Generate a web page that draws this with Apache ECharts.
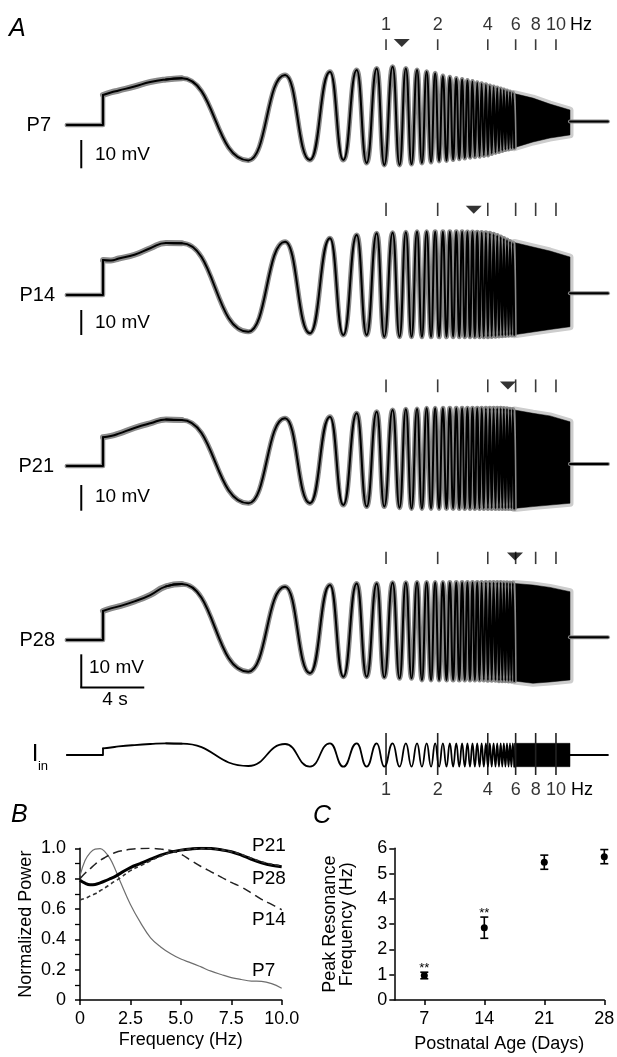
<!DOCTYPE html>
<html><head><meta charset="utf-8">
<script src="https://cdn.jsdelivr.net/npm/echarts@6.0.0/dist/echarts.min.js"></script>
<style>html,body{margin:0;padding:0;background:#fff}#c{width:617px;height:1057px}</style>
</head><body><div id="c"></div>
<script>
// ================= DATA =================
// Panel A: time (s, 0 = onset of chirp current), membrane potential (mV re. rest)
const preT = [-2.3, 0];
const slowT = [0, 0.5, 1, 2, 3, 4, 5];
const extremaT = [9.23, 11.56, 13.14, 14.41, 15.26, 16.11, 16.74, 17.38, 17.86,
  18.39, 18.83, 19.23, 19.59, 19.94, 20.25, 20.55, 20.83, 21.09, 21.34,
  21.58, 21.81, 22.02, 22.23, 22.43, 22.62, 22.80, 22.97, 23.14, 23.30,
  23.46, 23.61, 23.76, 23.91, 24.04, 24.18, 24.31, 24.44, 24.56, 24.68,
  24.80, 24.92, 25.03, 25.14, 25.25, 25.35, 25.45, 25.55, 25.65, 25.75,
  25.84, 25.93, 26.02, 26.11];
const denseT = [26.11, 27.3, 28.38, 29.65];
const postT = [29.65, 32.06];

const p7Pre = [0, 0];
const p7Slow = [10.6, 11.5, 12.2, 13.6, 15.2, 16.1, 16.5];
const p7Ext = [-12.5, 17.7, -12.4, 18.8, -12.4, 19.4, -13.4, 20.0, -14.1,
  20.6, -14.1, 20.0, -13.8, 19.4, -13.4, 18.8, -13.1, 18.3, -12.7,
  17.3, -12.5, 16.9, -12.2, 16.4, -11.9, 16.1, -11.7, 15.7, -11.4,
  15.4, -11.2, 14.9, -11.0, 14.6, -10.8, 14.2, -10.6, 13.8, -10.1,
  13.4, -9.7, 13.1, -9.4, 12.7, -9.0, 12.4, -8.7, 12.0, -8.5,
  11.7, -8.2, 11.3, -8.0];
const p7DenseTop = [11.1, 9.5, 7.4, 5.3];
const p7DenseBot = [-8.0, -6.0, -4.6, -3.5];
const p7Post = [1.2, 1.2];

const p14Pre = [0, 0];
const p14Slow = [14.0, 13.8, 14.6, 16.1, 18.7, 20.8, 20.7];
const p14Ext = [-14.7, 21.3, -15.3, 22.7, -16.0, 24.0, -16.0, 24.7, -16.7,
  24.9, -16.7, 25.1, -16.7, 25.3, -16.7, 25.3, -16.7, 25.3, -16.7,
  25.3, -16.7, 25.3, -16.7, 25.3, -16.7, 25.3, -16.7, 25.2, -16.7,
  25.2, -16.7, 25.1, -16.7, 25.0, -16.7, 24.9, -16.7, 24.7, -16.6,
  24.3, -16.5, 23.8, -16.4, 23.2, -16.3, 22.6, -16.2, 22.0, -16.1,
  21.4, -16.0, 20.8, -15.9];
const p14DenseTop = [21.0, 19.2, 17.6, 15.2];
const p14DenseBot = [-15.9, -14.8, -13.8, -12.7];
const p14Post = [0.7, 0.7];

const p21Pre = [0, 0];
const p21Slow = [11.2, 11.7, 12.6, 14.8, 16.6, 18.1, 17.9];
const p21Ext = [-14.5, 18.6, -14.5, 19.2, -15.2, 20.5, -15.8, 21.1, -15.8,
  21.8, -16.2, 22.1, -16.5, 22.2, -16.5, 22.5, -16.5, 22.5, -16.5,
  22.5, -16.5, 22.5, -16.5, 22.5, -16.5, 22.5, -16.5, 22.5, -16.5,
  22.5, -16.5, 22.5, -16.5, 22.5, -16.5, 22.5, -16.5, 22.5, -16.5,
  22.5, -16.5, 22.5, -16.5, 22.5, -16.5, 22.4, -16.5, 22.3, -16.5,
  22.1, -16.5, 22.0, -16.5];
const p21DenseTop = [21.8, 20.5, 19.5, 17.2];
const p21DenseBot = [-16.5, -15.8, -15.2, -14.5];
const p21Post = [0.8, 0.8];

const p28Pre = [0, 0];
const p28Slow = [8.7, 9.5, 10.1, 11.6, 13.5, 16.1, 16.8];
const p28Ext = [-9.5, 16.0, -10.0, 16.5, -11.0, 17.0, -11.0, 17.0, -11.2,
  17.2, -11.5, 17.2, -11.5, 17.3, -12.0, 17.3, -12.0, 17.3, -12.0,
  17.3, -12.0, 17.3, -12.0, 17.3, -12.0, 17.3, -12.0, 17.3, -12.0,
  17.3, -12.0, 17.3, -12.0, 17.3, -12.0, 17.3, -12.1, 17.3, -12.1,
  17.3, -12.1, 17.3, -12.2, 17.3, -12.2, 17.2, -12.2, 17.2, -12.3,
  17.1, -12.3, 17.1, -12.3];
const p28DenseTop = [17.0, 16.5, 15.8, 14.5];
const p28DenseBot = [-12.3, -13.0, -12.6, -12.0];
const p28Post = [0.8, 0.8];

// injected current (normalized to chirp amplitude)
const iinPre = [0, 0];
const iinSlow = [0.57, 0.64, 0.73, 0.85, 0.94, 1.0, 0.97];
const iinExt = [-0.94, 0.94, -1, 1, -1, 1, -1, 1, -1,
  1, -1, 1, -1, 1, -1, 1, -1, 1, -1,
  1, -1, 1, -1, 1, -1, 1, -1, 1, -1,
  1, -1, 1, -1, 1, -1, 1, -1, 1, -1,
  1, -1, 1, -1, 1, -1, 1, -1, 1, -1,
  1, -1, 1, -1];
const iinDenseTop = [1, 1, 1, 1];
const iinDenseBot = [-1, -1, -1, -1];
const iinPost = [0, 0];

// chirp frequency markers (time at which the chirp reaches each frequency)
const freqTickT = [17.97, 21.25, 24.43, 26.20, 27.47, 28.76];
const freqTickLabels = ['1', '2', '4', '6', '8', '10'];
// resonance arrowheads (time) for P7, P14, P21, P28
const resonanceT = [18.97, 23.54, 25.71, 26.16];
const scaleBarMV = 10;
const scaleBarS = 4;

// Panel B: normalized impedance power
const bFreq = [0, 0.25, 0.5, 0.75, 1, 1.25, 1.5, 1.75, 2, 2.5, 3, 3.5, 4, 4.5, 5, 5.5, 6, 6.5, 7, 7.5, 8, 8.5, 9, 9.5, 10];
const bP7 = [0.82, 0.92, 0.97, 0.995, 0.998, 0.975, 0.93, 0.86, 0.78, 0.63, 0.51, 0.41, 0.35, 0.305, 0.27, 0.245, 0.218, 0.19, 0.168, 0.148, 0.135, 0.125, 0.123, 0.108, 0.078];
const bP14 = [0.80, 0.835, 0.865, 0.895, 0.92, 0.94, 0.958, 0.972, 0.982, 0.993, 0.999, 1.0, 0.995, 0.985, 0.962, 0.92, 0.88, 0.845, 0.81, 0.775, 0.745, 0.705, 0.663, 0.63, 0.595];
const bP21 = [0.79, 0.77, 0.76, 0.762, 0.772, 0.785, 0.80, 0.815, 0.835, 0.873, 0.90, 0.928, 0.955, 0.975, 0.988, 0.996, 1.0, 0.998, 0.99, 0.977, 0.955, 0.928, 0.905, 0.888, 0.878];
const bP28 = [0.66, 0.67, 0.685, 0.70, 0.72, 0.74, 0.763, 0.785, 0.805, 0.853, 0.885, 0.918, 0.948, 0.972, 0.988, 0.996, 1.0, 0.998, 0.99, 0.978, 0.96, 0.935, 0.912, 0.895, 0.885];

// Panel C: peak resonance frequency vs age
const ages = [7, 14, 21, 28];
const peakFreq = [0.97, 2.86, 5.45, 5.67];
const peakSem = [0.13, 0.42, 0.28, 0.28];
const sigMarks = ['**', '**', '', ''];
const ageTicks = [7, 14, 21, 28];

// ================= LAYOUT =================
const FONT = '"Liberation Sans", Arial, Helvetica, sans-serif';
const rowLayout = [
  {top: 11.8, height: 169.8, min: -20, max: 40, tick: [30.3, 26.5], triV: 29.0, labelV: 35.3, barTop: -5.3, timeBar: false},
  {top: 195, height: 150, min: -20, max: 40, tick: [36.9, 31.6], triV: 34.1, labelV: null, barTop: -6.0, timeBar: false},
  {top: 363.2, height: 154.2, min: -20, max: 40, tick: [33.7, 28.7], triV: 31.3, labelV: null, barTop: -7.4, timeBar: false},
  {top: 540.1, height: 166.5, min: -20, max: 30, tick: [26.5, 22.8], triV: 25.1, labelV: null, barTop: -4.3, timeBar: true},
  {top: 725.75, height: 70.2, min: -3.5, max: 2.5, tick: [1.88, -1.71], triV: null, labelV: -3.0, barTop: null, timeBar: false}
];
const rowsData = [
  {pre: p7Pre, slow: p7Slow, ext: p7Ext, top: p7DenseTop, bot: p7DenseBot, post: p7Post, halo: true, res: resonanceT[0]},
  {pre: p14Pre, slow: p14Slow, ext: p14Ext, top: p14DenseTop, bot: p14DenseBot, post: p14Post, halo: true, res: resonanceT[1]},
  {pre: p21Pre, slow: p21Slow, ext: p21Ext, top: p21DenseTop, bot: p21DenseBot, post: p21Post, halo: true, res: resonanceT[2]},
  {pre: p28Pre, slow: p28Slow, ext: p28Ext, top: p28DenseTop, bot: p28DenseBot, post: p28Post, halo: true, res: resonanceT[3]},
  {pre: iinPre, slow: iinSlow, ext: iinExt, top: iinDenseTop, bot: iinDenseBot, post: iinPost, halo: false, res: null}
];

const grids = [], xAxes = [], yAxes = [], series = [];
const HALO = '#8a8a8a';

// mode: 0 = straight, 1 = free smooth, 2 = smooth with flat tangents at every point (extrema)
function lineS(data, r, color, width, mode) {
  const s = {type: 'line', xAxisIndex: r, yAxisIndex: r, data: data, smooth: mode ? 0.5 : false,
    showSymbol: false, symbol: 'none', silent: true, animation: false,
    lineStyle: {color: color, width: width, cap: 'round', join: 'round'}};
  if (mode === 2) s.smoothMonotone = 'x';
  return s;
}
function denseS(data, r, style) {
  return {type: 'custom', coordinateSystem: 'cartesian2d', xAxisIndex: r, yAxisIndex: r, silent: true,
    data: data, animation: false,
    renderItem: function (params, api) {
      if (params.dataIndex !== 0) return null;
      const pts = [];
      for (let i = 0; i < data.length; i++) pts.push(api.coord([data[i][0], data[i][1]]));
      for (let i = data.length - 1; i >= 0; i--) pts.push(api.coord([data[i][0], data[i][2]]));
      return {type: 'polygon', shape: {points: pts}, style: style};
    }};
}

rowLayout.forEach(function (L, r) {
  grids.push({left: 55.75, width: 559.125, top: L.top, height: L.height, outerBoundsMode: 'none'});
  xAxes.push({gridIndex: r, type: 'value', min: -3, max: 32.5, show: false});
  yAxes.push({gridIndex: r, type: 'value', min: L.min, max: L.max, show: false});
  const D = rowsData[r];
  const last = slowT.length - 1;
  const preData = [[preT[0], D.pre[0]], [preT[1], D.pre[1]], [slowT[0], D.slow[0]]];
  const riseData = slowT.map((t, i) => [t, D.slow[i]]);
  const chirpData = [[slowT[last - 1], D.slow[last - 1]], [slowT[last], D.slow[last]]]
    .concat(extremaT.map((t, i) => [t, D.ext[i]]));
  const denseData = denseT.map((t, i) => [t, D.top[i], D.bot[i]]);
  const postData = postT.map((t, i) => [t, D.post[i]]);
  const lw = D.halo ? 2 : 1.8;
  if (D.halo) {
    series.push(lineS(preData, r, HALO, 4.5, 0));
    series.push(lineS(riseData, r, HALO, 6, 1));
    series.push(lineS(chirpData, r, HALO, 5, 2));
    series.push(lineS(postData, r, HALO, 4, 0));
    series.push(denseS(denseData, r, {fill: '#cdcdcd', stroke: '#cdcdcd', lineWidth: 7, lineJoin: 'round'}));
  }
  series.push(lineS(preData, r, '#000', lw, 0));
  series.push(lineS(riseData, r, '#000', lw, 1));
  series.push(lineS(chirpData, r, '#000', lw, 2));
  series.push(lineS(postData, r, '#000', lw, 0));
  series.push(denseS(denseData, r, {fill: '#000', stroke: '#000', lineWidth: 0.5}));
  // frequency tick marks
  series.push({type: 'custom', coordinateSystem: 'cartesian2d', xAxisIndex: r, yAxisIndex: r, silent: true, animation: false,
    data: freqTickT.map(t => [t, L.tick[0]]),
    renderItem: function (params, api) {
      const t = api.value(0);
      const a = api.coord([t, L.tick[0]]), b = api.coord([t, L.tick[1]]);
      return {type: 'line', shape: {x1: a[0], y1: a[1], x2: b[0], y2: b[1]},
        style: {stroke: r === 4 ? '#222' : '#3a3a3a', lineWidth: 1.6}};
    }});
  // resonance arrowhead
  if (D.res !== null) {
    series.push({type: 'scatter', xAxisIndex: r, yAxisIndex: r, silent: true, animation: false,
      data: [[D.res, L.triV]], symbol: 'triangle', symbolRotate: 180, symbolSize: [16, 8],
      itemStyle: {color: '#000'}});
  }
  // frequency labels
  if (L.labelV !== null) {
    series.push({type: 'scatter', xAxisIndex: r, yAxisIndex: r, silent: true, animation: false,
      data: freqTickT.map((t, i) => [t, L.labelV, freqTickLabels[i]]), symbolSize: 1,
      itemStyle: {color: 'rgba(0,0,0,0)'},
      label: {show: true, position: 'inside', formatter: p => p.value[2], color: '#000',
        fontSize: 18, fontFamily: FONT}});
  }
  // scale bars
  if (L.barTop !== null) {
    series.push({type: 'custom', coordinateSystem: 'cartesian2d', xAxisIndex: r, yAxisIndex: r, silent: true, animation: false,
      data: [[-1.38, L.barTop]],
      renderItem: function (params, api) {
        const t0 = api.value(0), v0 = api.value(1);
        const a = api.coord([t0, v0]), b = api.coord([t0, v0 - scaleBarMV]);
        const kids = [{type: 'line', shape: {x1: a[0], y1: a[1], x2: b[0], y2: b[1]}, style: {stroke: '#000', lineWidth: 2}}];
        if (L.timeBar) {
          const c = api.coord([t0 + scaleBarS, v0 - scaleBarMV]);
          kids.push({type: 'line', shape: {x1: b[0] - 1, y1: b[1], x2: c[0], y2: c[1]}, style: {stroke: '#000', lineWidth: 2}});
        }
        return {type: 'group', children: kids};
      }});
  }
});

// Panel B
const axisCommon = {
  axisLine: {show: true, onZero: false, lineStyle: {color: '#000', width: 1.5}},
  axisTick: {show: true, inside: false, length: 5, lineStyle: {color: '#000', width: 1.5}},
  splitLine: {show: false},
  nameLocation: 'middle',
  nameTextStyle: {fontSize: 18, color: '#000', fontFamily: FONT}
};
grids.push({left: 80, width: 201.7, top: 848.3, height: 151.7, outerBoundsMode: 'none'});
xAxes.push(Object.assign({}, axisCommon, {gridIndex: 5, type: 'value', min: 0, max: 10, interval: 2.5,
  name: 'Frequency (Hz)', nameGap: 31,
  axisLabel: {fontSize: 18, color: '#000', fontFamily: FONT, margin: 10, formatter: v => v === 0 ? '0' : v.toFixed(1)}}));
yAxes.push(Object.assign({}, axisCommon, {gridIndex: 5, type: 'value', min: 0, max: 1, interval: 0.2,
  name: 'Normalized Power', nameGap: 45,
  minorTick: {show: true, splitNumber: 2, length: 5, lineStyle: {color: '#000', width: 1.3}},
  minorSplitLine: {show: false},
  axisLabel: {fontSize: 18, color: '#000', fontFamily: FONT, margin: 14, formatter: v => v === 0 ? '0' : v.toFixed(1)}}));

function bLine(vals, color, width, type) {
  return {type: 'line', xAxisIndex: 5, yAxisIndex: 5, data: bFreq.map((f, i) => [f, vals[i]]),
    smooth: 0.4, showSymbol: false, symbol: 'none', silent: true, animation: false,
    lineStyle: {color: color, width: width, type: type}};
}
series.push(bLine(bP7, '#6e6e6e', 1.2, 'solid'));
series.push(bLine(bP14, '#222', 1.5, [9, 5]));
series.push(bLine(bP21, '#000', 3, 'solid'));
series.push(bLine(bP28, '#333', 1.6, [4, 3]));

// Panel C
grids.push({left: 394.3, width: 210, top: 848.3, height: 151.7, outerBoundsMode: 'none'});
xAxes.push(Object.assign({}, axisCommon, {gridIndex: 6, type: 'value', min: 3.5, max: 28,
  name: 'Postnatal Age (Days)', nameGap: 35,
  axisTick: {show: true, length: 5, customValues: ageTicks, lineStyle: {color: '#000', width: 1.5}},
  axisLabel: {fontSize: 18, color: '#000', fontFamily: FONT, margin: 10, customValues: ageTicks}}));
yAxes.push(Object.assign({}, axisCommon, {gridIndex: 6, type: 'value', min: 0, max: 6, interval: 1,
  name: 'Peak Resonance\nFrequency (Hz)', nameGap: 39,
  nameTextStyle: {fontSize: 18, color: '#000', fontFamily: FONT, lineHeight: 17},
  axisLabel: {fontSize: 18, color: '#000', fontFamily: FONT, margin: 7}}));
series.push({type: 'custom', coordinateSystem: 'cartesian2d', xAxisIndex: 6, yAxisIndex: 6, silent: true, animation: false,
  data: ages.map((a, i) => [a, peakFreq[i], peakSem[i]]),
  renderItem: function (params, api) {
    const x = api.value(0), m = api.value(1), e = api.value(2);
    const c = api.coord([x, m]), hi = api.coord([x, m + e]), lo = api.coord([x, m - e]);
    const st = {stroke: '#000', lineWidth: 1.6};
    const kids = [
      {type: 'line', shape: {x1: c[0], y1: hi[1], x2: c[0], y2: lo[1]}, style: st},
      {type: 'line', shape: {x1: c[0] - 4, y1: hi[1], x2: c[0] + 4, y2: hi[1]}, style: st},
      {type: 'line', shape: {x1: c[0] - 4, y1: lo[1], x2: c[0] + 4, y2: lo[1]}, style: st},
      {type: 'circle', shape: {cx: c[0], cy: c[1], r: 3.5}, style: {fill: '#000'}}
    ];
    const s = sigMarks[params.dataIndex];
    if (s) {
      kids.push({type: 'text', x: c[0], y: hi[1] - 4,
        style: {text: s, fill: '#000', font: '13px ' + FONT, textAlign: 'center', align: 'center',
          textVerticalAlign: 'middle', verticalAlign: 'middle'}});
    }
    return {type: 'group', children: kids};
  }});

// ================= TEXT =================
function txt(text, x, y, size, align, style) {
  return {type: 'text', x: x, y: y, silent: true,
    style: {text: text, fill: '#000', font: (style ? style + ' ' : '') + size + 'px ' + FONT,
      textAlign: align, align: align, textVerticalAlign: 'middle', verticalAlign: 'middle'}};
}
const graphics = [
  txt('A', 9, 29, 25, 'left', 'italic'),
  txt('B', 11, 815, 25, 'left', 'italic'),
  txt('C', 313, 816, 25, 'left', 'italic'),
  txt('P7', 51, 125, 20, 'right'),
  txt('P14', 55, 295, 20, 'right'),
  txt('P21', 54, 466, 20, 'right'),
  txt('P28', 55, 640, 20, 'right'),
  txt('I', 35, 754, 24, 'center'),
  txt('in', 43, 766, 13, 'center'),
  txt('10 mV', 95, 155, 19, 'left'),
  txt('10 mV', 95, 323, 19, 'left'),
  txt('10 mV', 95, 497, 19, 'left'),
  txt('10 mV', 89, 668, 19, 'left'),
  txt('4 s', 115, 700, 19, 'center'),
  txt('Hz', 570, 25, 18, 'left'),
  txt('Hz', 571, 790, 18, 'left'),
  txt('P21', 252, 846, 19, 'left'),
  txt('P28', 252, 878.5, 19, 'left'),
  txt('P14', 252, 919.5, 19, 'left'),
  txt('P7', 252, 971, 19, 'left')
];

const chart = echarts.init(document.getElementById('c'), null, {renderer: 'canvas', width: 617, height: 1057});
chart.setOption({
  animation: false,
  backgroundColor: '#fff',
  textStyle: {fontFamily: FONT},
  grid: grids,
  xAxis: xAxes,
  yAxis: yAxes,
  series: series,
  graphic: graphics
});
</script>
</body></html>
